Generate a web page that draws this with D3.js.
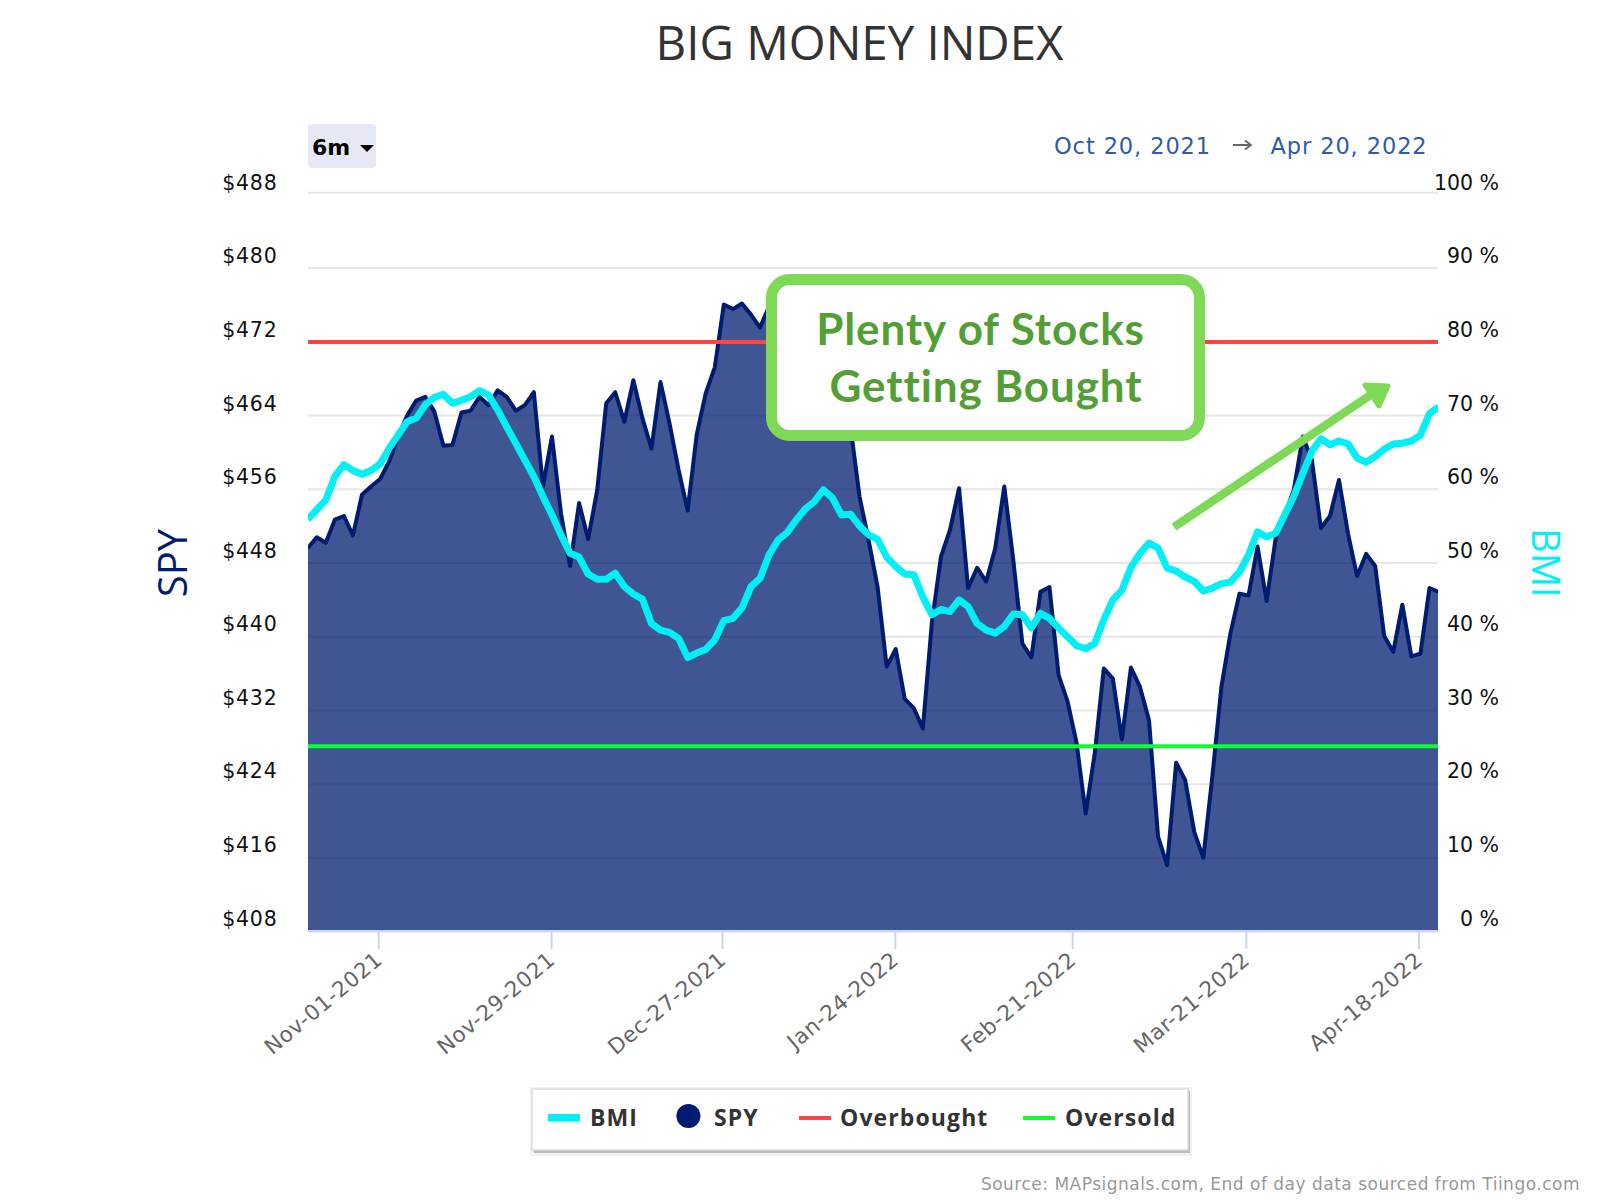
<!DOCTYPE html>
<html>
<head>
<meta charset="utf-8">
<title>Big Money Index</title>
<script src="https://cdn.jsdelivr.net/npm/d3@7"></script>
<style>
  html, body { margin: 0; padding: 0; background: #fff; }
  svg { display: block; }
</style>
</head>
<body>
<div id="chart"></div>
<script>
// one value per trading day, Oct 20 2021 -> Apr 20 2022
var spyValues = [
  449.5, 450.7, 450.1, 452.6, 453.0, 450.9, 455.3, 456.2, 457.0, 458.9,
  461.6, 463.9, 465.5, 465.9, 464.3, 460.6, 460.7, 464.2, 464.4, 465.9,
  465.0, 466.6, 465.9, 464.4, 465.0, 466.4, 456.2, 461.6, 453.3, 447.6,
  454.4, 450.5, 455.8, 465.2, 466.4, 463.2, 467.7, 463.6, 460.3, 467.5,
  463.0, 458.0, 453.6, 461.8, 466.3, 469.1, 475.9, 475.4, 476.0, 474.8,
  473.4, 475.7, 475.6, 466.5, 466.0, 464.2, 463.6, 467.9, 469.2, 462.7,
  462.7, 455.1, 450.4, 445.3, 436.7, 438.6, 433.2, 432.2, 430.0, 441.5,
  448.6, 451.5, 456.0, 445.2, 447.4, 445.9, 449.5, 456.2, 448.2, 439.2,
  437.7, 444.8, 445.3, 435.8, 432.9, 428.4, 420.8, 427.3, 436.5, 435.4,
  428.8, 436.6, 434.5, 430.9, 418.3, 415.2, 426.3, 424.4, 418.8, 416.0,
  424.8, 434.5, 440.3, 444.6, 444.4, 449.7, 443.8, 450.6, 453.1, 455.8,
  461.6, 459.1, 451.7, 453.0, 456.9, 451.1, 446.5, 448.9, 447.6, 440.0,
  438.3, 443.4, 437.8, 438.1, 445.2, 444.8
];
var bmiValues = [
  55.8, 57.1, 58.4, 61.6, 63.2, 62.4, 61.9, 62.4, 63.3, 65.4,
  67.2, 69.0, 69.5, 71.3, 72.3, 72.7, 71.5, 71.9, 72.4, 73.2,
  72.6, 70.6, 68.3, 66.1, 63.8, 61.6, 58.9, 56.4, 53.7, 51.2,
  50.7, 48.4, 47.7, 47.7, 48.5, 46.7, 45.7, 45.0, 41.7, 40.8,
  40.5, 39.7, 37.1, 37.7, 38.2, 39.5, 42.1, 42.4, 43.8, 46.7,
  47.8, 51.0, 53.0, 54.0, 55.7, 57.2, 58.2, 59.8, 58.7, 56.4,
  56.5, 54.9, 53.7, 53.1, 50.7, 49.4, 48.4, 48.3, 45.3, 42.9,
  43.6, 43.3, 44.9, 44.0, 41.7, 40.8, 40.4, 41.3, 43.0, 42.9,
  41.1, 43.1, 42.4, 41.1, 39.9, 38.7, 38.3, 39.0, 42.2, 44.9,
  46.2, 49.3, 51.2, 52.6, 51.9, 49.2, 48.8, 48.0, 47.4, 46.1,
  46.5, 47.1, 47.3, 48.7, 51.0, 54.1, 53.4, 53.9, 56.4, 58.9,
  62.0, 65.0, 66.7, 65.9, 66.4, 66.0, 64.1, 63.5, 64.3, 65.3,
  66.0, 66.1, 66.4, 67.2, 70.1, 71.0
];
var overbought = 79.8;
var oversold = 25.1;

var tickLabels = ["Nov-01-2021", "Nov-29-2021", "Dec-27-2021", "Jan-24-2022", "Feb-21-2022", "Mar-21-2022", "Apr-18-2022"];
var tickIndex = [7.8, 26.9, 45.8, 64.9, 84.5, 103.7, 122.8];
var spyTicks = [408, 416, 424, 432, 440, 448, 456, 464, 472, 480, 488];
var bmiTicks = [0, 10, 20, 30, 40, 50, 60, 70, 80, 90, 100];
var legendNames = ["BMI", "SPY", "Overbought", "Oversold"];

var NAVY = "#001c70", CYAN = "#00f0f5", RED = "#ff4444", LIME = "#0cff2e", CALLOUT = "#7ed957";
var LEFT = 308, RIGHT = 1438, TOP = 192.7, BOTTOM = 931.7;

var svg = d3.select("#chart").append("svg").attr("width", 1600).attr("height", 1200);

var x = d3.scaleLinear().domain([0, 125]).range([307.7, 1438.5]);
var ySpy = d3.scaleLinear().domain([408, 488]).range([BOTTOM, TOP]);
var yBmi = d3.scaleLinear().domain([0, 100]).range([BOTTOM, TOP]);
// the top grid line sits a little high in the original
var yGrid = d3.scaleLinear().domain([408, 480, 488]).range([BOTTOM, 268, TOP]);
// tick labels sit above their grid lines and do not space quite the same way
var ySpyLabel = d3.scaleLinear().domain([408, 488]).range([918.2, 182.5]);
var yBmiLabel = d3.scaleLinear().domain([0, 100]).range([918.2, 182.5]);

svg.append("defs").append("clipPath").attr("id", "plot-clip")
  .append("rect").attr("x", LEFT).attr("y", 0).attr("width", RIGHT - LEFT).attr("height", 1200);

// title
svg.append("text").attr("x", 859.5).attr("y", 60).attr("text-anchor", "middle")
  .style("font-family", "Open Sans").style("font-size", "47.4px").style("fill", "#333")
  .text("BIG MONEY INDEX");

// range selector
svg.append("rect").attr("x", 308).attr("y", 124).attr("width", 68).attr("height", 44).attr("rx", 4)
  .style("fill", "#e6e9f5");
svg.append("text").attr("x", 312).attr("y", 155)
  .style("font-family", "DejaVu Sans").style("font-weight", "bold").style("font-size", "22px").style("fill", "#000")
  .text("6m");
svg.append("path").attr("d", "M360,145 L374,145 L367,152 Z").style("fill", "#000");

// date range
[["Oct 20, 2021", 1054], ["Apr 20, 2022", 1270.5]].forEach(function(d) {
  svg.append("text").attr("x", d[1]).attr("y", 153.5)
    .style("font-family", "DejaVu Sans").style("font-size", "22.5px").style("letter-spacing", "0.9px").style("fill", "#2f5bad")
    .text(d[0]);
});
svg.append("path").attr("d", "M1233,145 L1250,145 M1245,140.5 L1251,145 L1245,149.5")
  .style("fill", "none").style("stroke", "#666").style("stroke-width", 1.8);

// grid
svg.append("g").selectAll("line").data(spyTicks).enter().append("line")
  .attr("x1", LEFT).attr("x2", RIGHT)
  .attr("y1", function(d) { return yGrid(d); }).attr("y2", function(d) { return yGrid(d); })
  .style("stroke", "#e6e6e6").style("stroke-width", 2);

// y labels
svg.append("g").selectAll("text").data(spyTicks).enter().append("text")
  .attr("x", 277.5).attr("y", function(d) { return ySpyLabel(d); })
  .attr("text-anchor", "end").attr("dy", "0.36em")
  .style("font-family", "DejaVu Sans").style("font-size", "20.5px").style("letter-spacing", "0.8px").style("fill", "#111")
  .text(function(d) { return "$" + d; });
svg.append("g").selectAll("text").data(bmiTicks).enter().append("text")
  .attr("x", 1499).attr("y", function(d) { return yBmiLabel(d); })
  .attr("text-anchor", "end").attr("dy", "0.36em")
  .style("font-family", "DejaVu Sans").style("font-size", "20.5px").style("fill", "#111")
  .text(function(d) { return d + " %"; });

// axis titles
svg.append("text").attr("transform", "translate(187,563) rotate(-90)").attr("text-anchor", "middle")
  .style("font-family", "Open Sans").style("font-size", "40px").style("fill", NAVY).text("SPY");
svg.append("text").attr("transform", "translate(1532,563) rotate(90)").attr("text-anchor", "middle")
  .style("font-family", "Open Sans").style("font-size", "38px").style("fill", CYAN).text("BMI");

// x axis
var xAxis = d3.axisBottom(x)
  .tickValues(tickIndex)
  .tickSize(18)
  .tickFormat(function(d, i) { return tickLabels[i]; });
var xg = svg.append("g").attr("transform", "translate(0,931)").call(xAxis);
xg.select(".domain").remove();
xg.selectAll(".tick line").style("stroke", "#ccd6eb").style("stroke-width", 2);
xg.selectAll(".tick text")
  .attr("text-anchor", "end").attr("x", 0).attr("y", 0).attr("dy", 0)
  .attr("transform", "translate(5,31) rotate(-40)")
  .style("font-family", "DejaVu Sans").style("font-size", "21.5px").style("letter-spacing", "0.6px").style("fill", "#666");
svg.append("line").attr("x1", LEFT).attr("x2", RIGHT).attr("y1", 931).attr("y2", 931)
  .style("stroke", "#ccd6eb").style("stroke-width", 2);

// series
var plot = svg.append("g").attr("clip-path", "url(#plot-clip)");
var spyArea = d3.area()
  .x(function(d, i) { return x(i); })
  .y0(930)
  .y1(function(d) { return ySpy(d); });
var spyLine = d3.line()
  .x(function(d, i) { return x(i); })
  .y(function(d) { return ySpy(d); });
var bmiLine = d3.line()
  .x(function(d, i) { return x(i); })
  .y(function(d) { return yBmi(d); });

plot.append("path").datum(spyValues).attr("d", spyArea)
  .style("fill", NAVY).style("fill-opacity", 0.75);
plot.append("path").datum(spyValues).attr("d", spyLine)
  .style("fill", "none").style("stroke", NAVY).style("stroke-width", 4).style("stroke-linejoin", "round");

[[overbought, RED], [oversold, LIME]].forEach(function(d) {
  plot.append("line").attr("x1", LEFT).attr("x2", RIGHT)
    .attr("y1", yBmi(d[0])).attr("y2", yBmi(d[0]))
    .style("stroke", d[1]).style("stroke-width", 4);
});

plot.append("path").datum(bmiValues).attr("d", bmiLine)
  .style("fill", "none").style("stroke", CYAN).style("stroke-width", 7).style("stroke-linejoin", "round");

// callout pasted on top of the chart
svg.append("rect").attr("x", 771.5).attr("y", 279.5).attr("width", 428).attr("height", 156).attr("rx", 18)
  .style("fill", "#fff").style("stroke", CALLOUT).style("stroke-width", 11);
[["Plenty of Stocks", 980.5, 345], ["Getting Bought", 986, 402]].forEach(function(d) {
  svg.append("text").attr("x", d[1]).attr("y", d[2]).attr("text-anchor", "middle")
    .style("font-family", "Lato").style("font-weight", "bold").style("font-size", "44px")
    .style("letter-spacing", "0.9px").style("font-variant-ligatures", "none").style("fill", "#539f35")
    .text(d[0]);
});

// arrow
svg.append("line").attr("x1", 1174).attr("y1", 527).attr("x2", 1372).attr("y2", 394)
  .style("stroke", CALLOUT).style("stroke-width", 8.5);
svg.append("path").attr("d", "M1365,385 L1388,386 L1379,406 Z")
  .style("fill", CALLOUT).style("stroke", CALLOUT).style("stroke-width", 5).style("stroke-linejoin", "round");

// legend
svg.append("rect").attr("x", 530).attr("y", 1087).attr("width", 662).attr("height", 69).style("fill", "#f1f1f1");
svg.append("rect").attr("x", 534).attr("y", 1091).attr("width", 656).attr("height", 62).style("fill", "#bbb");
svg.append("rect").attr("x", 532).attr("y", 1089).attr("width", 656).attr("height", 61)
  .style("fill", "#fff").style("stroke", "#ddd").style("stroke-width", 1.5);

var legendTextX = [590, 714, 840, 1065];
legendNames.forEach(function(name, i) {
  svg.append("text").attr("x", legendTextX[i]).attr("y", 1126)
    .style("font-family", "Open Sans").style("font-weight", "bold").style("font-size", "23px")
    .style("letter-spacing", "1.1px").style("fill", "#333")
    .text(name);
});
svg.append("rect").attr("x", 548).attr("y", 1114).attr("width", 32).attr("height", 7.6).style("fill", CYAN);
svg.append("circle").attr("cx", 688.4).attr("cy", 1116).attr("r", 12).style("fill", NAVY);
svg.append("rect").attr("x", 799).attr("y", 1116).attr("width", 32).attr("height", 4).style("fill", RED);
svg.append("rect").attr("x", 1023).attr("y", 1116).attr("width", 32).attr("height", 4).style("fill", LIME);

// source
svg.append("text").attr("x", 1580).attr("y", 1189.5).attr("text-anchor", "end")
  .style("font-family", "DejaVu Sans").style("font-size", "17px").style("letter-spacing", "0.5px").style("fill", "#999")
  .text("Source: MAPsignals.com, End of day data sourced from Tiingo.com");
</script>
</body>
</html>
